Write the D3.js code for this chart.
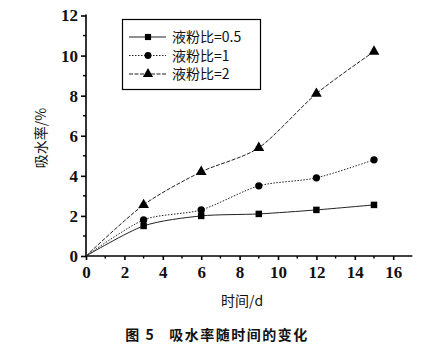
<!DOCTYPE html>
<html>
<head>
<meta charset="utf-8">
<script src="https://cdn.jsdelivr.net/npm/d3@7"></script>
<style>
  body { margin: 0; background: #fff; }
  text { fill: #111; }
</style>
</head>
<body>
<div id="chart"></div>
<script>
// data
var days = [0, 3, 6, 9, 12, 15]
var ratio05 = [0, 1.5, 2.0, 2.1, 2.3, 2.55]
var ratio1 = [0, 1.8, 2.3, 3.5, 3.9, 4.8]
var ratio2 = [0, 2.55, 4.2, 5.4, 8.1, 10.2]
var seriesNames = ["液粉比=0.5", "液粉比=1", "液粉比=2"]
var xTicks = [0, 2, 4, 6, 8, 10, 12, 14, 16]
var yTicks = [0, 2, 4, 6, 8, 10, 12]

var width = 430, height = 363
var margin = {top: 16, left: 86, right: 20, bottom: 107}

var svg = d3.select("#chart").append("svg")
  .attr("width", width).attr("height", height)

var x = d3.scaleLinear().domain([0, 17]).range([margin.left, margin.left + 17 * 19.2])
var y = d3.scaleLinear().domain([0, 12]).range([256, 15.5])

var tickFont = "'Liberation Serif', 'DejaVu Serif', serif"

//axes
var xAxis = svg.append("g").attr("transform", "translate(0," + y(0) + ")")
  .call(d3.axisBottom(x).tickValues(xTicks).tickSize(4).tickPadding(6))
xAxis.select(".domain").attr("stroke-width", 1.6).attr("d", "M" + x(0) + ",0H" + x(17))
xAxis.selectAll("text").style("font-family", tickFont).style("font-size", "17px").style("font-weight", "bold").attr("fill", "#111")
xAxis.selectAll("line").attr("stroke-width", 1.6)
xAxis.selectAll(".minor").data(d3.range(1, 17, 2)).enter().append("line")
  .attr("class", "minor").attr("x1", d => x(d)).attr("x2", d => x(d))
  .attr("y1", 0).attr("y2", 2.5).attr("stroke", "#000").attr("stroke-width", 1.4)

var yAxis = svg.append("g").attr("transform", "translate(" + x(0) + ",0)")
  .call(d3.axisLeft(y).tickValues(yTicks).tickSize(5).tickPadding(3))
yAxis.select(".domain").attr("stroke-width", 1.6).attr("d", "M0," + y(0) + "V" + (y(12) - 1))
yAxis.selectAll("text").style("font-family", tickFont).style("font-size", "17px").style("font-weight", "bold").attr("fill", "#111")
yAxis.selectAll("line").attr("stroke-width", 1.6)
yAxis.selectAll(".minor").data(d3.range(1, 12, 2)).enter().append("line")
  .attr("class", "minor").attr("y1", d => y(d)).attr("y2", d => y(d))
  .attr("x1", 0).attr("x2", -3).attr("stroke", "#000").attr("stroke-width", 1.4)

//axis titles
svg.append("text").attr("transform", "translate(46," + 138 + ") rotate(-90)")
  .attr("text-anchor", "middle").style("font-family", "'Noto Sans CJK SC'").style("font-size", "14px")
  .text("吸水率/%")
svg.append("text").attr("x", 242).attr("y", 306).attr("text-anchor", "middle")
  .style("font-family", "'Noto Sans CJK SC'").style("font-size", "14px").text("时间/d")
svg.append("text").attr("x", 217).attr("y", 340).attr("text-anchor", "middle")
  .style("font-family", "'Noto Sans CJK SC'").style("font-size", "14px").style("font-weight", "bold")
  .style("white-space", "pre").style("letter-spacing", "1.5px")
  .text("图 5   吸水率随时间的变化")

//lines
var series = [
  {name: seriesNames[0], values: ratio05, dash: null, shape: d3.symbolSquare},
  {name: seriesNames[1], values: ratio1, dash: "1.5,1.5", shape: d3.symbolCircle},
  {name: seriesNames[2], values: ratio2, dash: "4,1.5", shape: d3.symbolTriangle}
]

var line = d3.line().x(d => x(d[0])).y(d => y(d[1])).curve(d3.curveCardinal.tension(0.2))

series.forEach(function(s) {
  var pts = days.map((d, i) => [d, s.values[i]])
  svg.append("path").datum(pts).attr("d", line)
    .attr("fill", "none").attr("stroke", "#222").attr("stroke-width", 1)
    .attr("stroke-dasharray", s.dash)
  svg.selectAll(null).data(pts.slice(1)).enter().append("path")
    .attr("d", d3.symbol().type(s.shape).size(s.shape == d3.symbolTriangle ? 50 : 42))
    .attr("transform", d => "translate(" + x(d[0]) + "," + y(d[1]) + ")")
    .attr("fill", "#000")
})

//legend
var legend = svg.append("g")
legend.append("rect").attr("x", 122.5).attr("y", 19.5).attr("width", 138).attr("height", 70)
  .attr("fill", "#fff").attr("stroke", "#000").attr("stroke-width", 1.2)
series.forEach(function(s, i) {
  var ly = 37 + i * 18.5
  legend.append("line").attr("x1", 129).attr("x2", 166).attr("y1", ly).attr("y2", ly)
    .attr("stroke", "#222").attr("stroke-width", 1).attr("stroke-dasharray", s.dash)
  legend.append("path").attr("d", d3.symbol().type(s.shape).size(s.shape == d3.symbolTriangle ? 45 : 38))
    .attr("transform", "translate(148," + ly + ")").attr("fill", "#000")
  legend.append("text").attr("x", 172).attr("y", ly + 5)
    .style("font-family", "'Noto Sans CJK SC'").style("font-size", "14px")
    .text(s.name)
})
</script>
</body>
</html>
